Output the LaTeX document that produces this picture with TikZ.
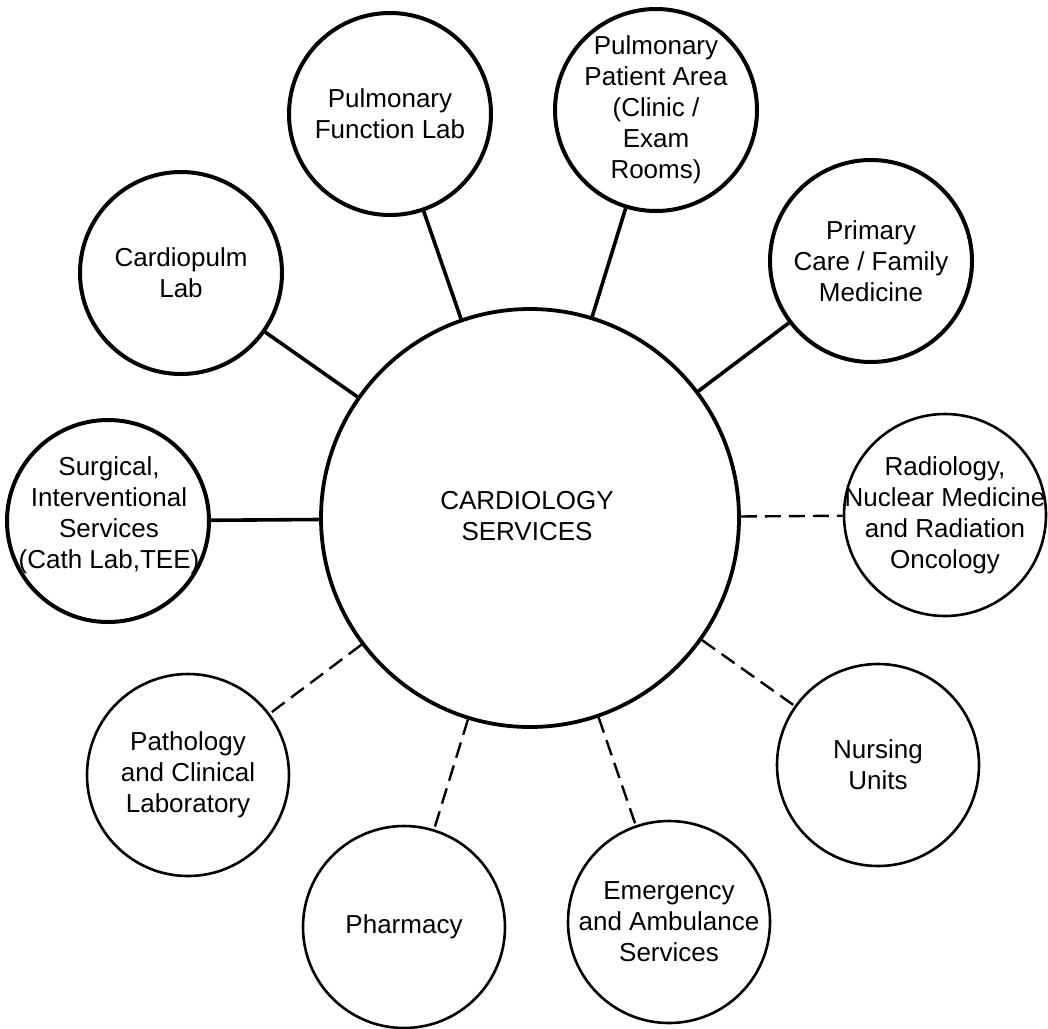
\documentclass[tikz,border=0pt]{standalone}
\usepackage{fontspec}
\setmainfont{Liberation Sans}
\begin{document}
\begin{tikzpicture}[x=1pt,y=-1pt,
  bigc/.style={circle,draw,line width=3.8pt,minimum size=418pt,inner sep=0pt},
  thickc/.style={circle,draw,line width=4pt,minimum size=202pt,inner sep=0pt},
  thinc/.style={circle,draw,line width=2.6pt,minimum size=202pt,inner sep=0pt},
  lbl/.style={align=center,font=\fontsize{26}{31}\selectfont,inner sep=0pt},
  solidlink/.style={line width=3.6pt},
  dashlink/.style={line width=2.4pt,dash pattern=on 16pt off 8pt}]
\useasboundingbox (0,0) rectangle (1048,1028);

% central
\node[bigc] (c) at (530,518) {};
\node[lbl] (ct) at (527,516) {CARDIOLOGY\\SERVICES};

% outer circles (solid links)
\node[thickc] (cp) at (181,273) {};
\node[lbl] (cpt) at (cp) {Cardiopulm\\Lab};
\node[thickc] (pfl) at (390,114) {};
\node[lbl] (pflt) at (pfl) {Pulmonary\\Function Lab};
\node[thickc] (ppa) at (656,110) {};
\node[lbl] (ppat) at (ppa) {Pulmonary\\Patient Area\\(Clinic /\\Exam\\Rooms)};
\node[thickc] (pc) at (871,261) {};
\node[lbl] (pct) at (pc) {Primary\\Care / Family\\Medicine};
\node[thickc] (sur) at (108,521) {};
\node[lbl] (surt) at (109,515) {Surgical,\\Interventional\\Services\\(Cath Lab,TEE)};

% outer circles (dashed links)
\node[thinc] (rad) at (945,515) {};
\node[lbl] (radt) at (rad) {Radiology,\\Nuclear Medicine\\and Radiation\\Oncology};
\node[thinc] (nur) at (878,765) {};
\node[lbl] (nurt) at (nur) {Nursing\\Units};
\node[thinc] (eme) at (669,922) {};
\node[lbl] (emet) at (eme) {Emergency\\and Ambulance\\Services};
\node[thinc] (pha) at (404,927) {};
\node[lbl] (phat) at (pha) {Pharmacy};
\node[thinc] (pat) at (188,775) {};
\node[lbl] (patt) at (pat) {Pathology\\and Clinical\\Laboratory};

% connectors
\draw[solidlink] (cp) -- (c);
\draw[solidlink] (pfl) -- (c);
\draw[solidlink] (ppa) -- (c);
\draw[solidlink] (pc) -- (c);
\draw[solidlink] (sur) -- (c);
\draw[dashlink] (c) -- (rad);
\draw[dashlink] (c) -- (nur);
\draw[dashlink] (c) -- (eme);
\draw[dashlink] (c) -- (pha);
\draw[dashlink] (c) -- (pat);
\end{tikzpicture}
\end{document}
